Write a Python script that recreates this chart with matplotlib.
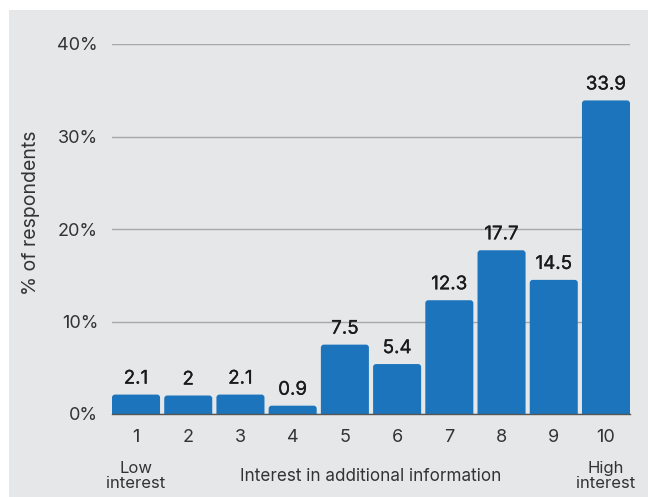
import matplotlib
matplotlib.use("Agg")
import matplotlib.pyplot as plt
import matplotlib.patheffects as pe
from matplotlib.patches import Rectangle, FancyBboxPatch

categories = ["1", "2", "3", "4", "5", "6", "7", "8", "9", "10"]
values = [2.1, 2.0, 2.1, 0.9, 7.5, 5.4, 12.3, 17.7, 14.5, 33.9]
value_labels = ["2.1", "2", "2.1", "0.9", "7.5", "5.4", "12.3", "17.7", "14.5", "33.9"]
yticks = [0, 10, 20, 30, 40]
ytick_labels = ["0%", "10%", "20%", "30%", "40%"]

FONT = ["Inter", "DejaVu Sans"]
plt.rcParams["font.family"] = FONT

W, H = 648, 497
fig = plt.figure(figsize=(W / 100, H / 100), dpi=100)
fig.patch.set_facecolor("white")
BG = "#e6e7e8"
fig.patches.append(Rectangle((9 / W, 0), 1 - 9 / W, (H - 10) / H,
                             transform=fig.transFigure, facecolor=BG,
                             edgecolor="none", zorder=-10))

left, right = 112 / W, 630 / W
bottom, top = (H - 414) / H, (H - 44) / H
ax = fig.add_axes([left, bottom, right - left, top - bottom])
ax.set_facecolor("none")

bw = 0.92
xs = list(range(1, len(categories) + 1))
ax.set_xlim(1 - bw / 2, len(categories) + bw / 2)
ax.set_ylim(0, 40)

BAR = "#1c75bc"
bars = ax.bar(xs, values, width=bw, color=BAR, zorder=3)

# round the top corners
ax_w_px = (right - left) * W
ax_h_px = (top - bottom) * H
px_x = (ax.get_xlim()[1] - ax.get_xlim()[0]) / ax_w_px
px_y = 40 / ax_h_px
r_px = 3
for b in bars:
    b.set_visible(False)
    x, w, h = b.get_x(), b.get_width(), b.get_height()
    p = FancyBboxPatch((x, -2), w, h + 2,
                       boxstyle=f"round,pad=0,rounding_size={r_px * px_x}",
                       mutation_aspect=px_y / px_x,
                       facecolor=BAR, edgecolor="none", zorder=3, clip_on=True)
    ax.add_patch(p)

LABEL_C = "#1a1a1a"
for x, v, lab in zip(xs, values, value_labels):
    ax.annotate(lab, (x, v), xytext=(0, 5), textcoords="offset points",
                ha="center", va="bottom", fontsize=13.5, fontweight="normal",
                color=LABEL_C,
                path_effects=[pe.withStroke(linewidth=0.2, foreground=LABEL_C)])

ax.set_yticks(yticks)
ax.set_yticklabels(ytick_labels)
ax.set_xticks(xs)
ax.set_xticklabels(categories)
ax.tick_params(axis="y", length=0, pad=10, labelsize=13, labelcolor="#333333")
ax.tick_params(axis="x", length=0, pad=11, labelsize=13, labelcolor="#333333")

for s in ["top", "right", "left"]:
    ax.spines[s].set_visible(False)
ax.spines["bottom"].set_color("#555555")
ax.spines["bottom"].set_linewidth(1)
ax.spines["bottom"].set_zorder(4)

ax.yaxis.grid(True, color="#a8a8a8", linewidth=1, zorder=0)
ax.set_axisbelow(True)

ax.text(-0.156, 0.543, "% of respondents", transform=ax.transAxes,
        rotation=90, ha="center", va="center", fontsize=14, color="#333333")

ax.annotate("Low\ninterest", (1, 0), xycoords=("data", "axes fraction"),
            xytext=(0, -34), textcoords="offset points", ha="center", va="top",
            fontsize=12, color="#333333", linespacing=0.95)
ax.annotate("High\ninterest", (10, 0), xycoords=("data", "axes fraction"),
            xytext=(0, -34), textcoords="offset points", ha="center", va="top",
            fontsize=12, color="#333333", linespacing=0.95)
ax.text(0.5, -0.1676, "Interest in additional information", transform=ax.transAxes,
        ha="center", va="center", fontsize=12.3, color="#333333")

fig.savefig("out.png", dpi=100, facecolor=fig.get_facecolor())
